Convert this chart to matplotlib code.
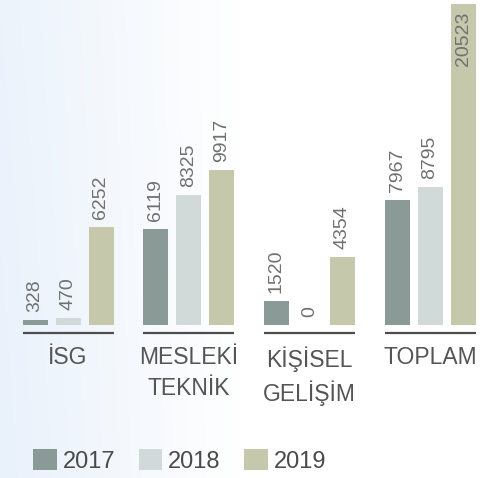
import numpy as np
import matplotlib.pyplot as plt
from matplotlib.patches import Patch

plt.rcParams['font.family'] = ['Liberation Sans', 'DejaVu Sans']

kategoriler = ["İSG", "MESLEKİ\nTEKNİK", "KİŞİSEL\nGELİŞİM", "TOPLAM"]
yillar = ["2017", "2018", "2019"]
deger_2017 = [328, 6119, 1520, 7967]
deger_2018 = [470, 8325, 0, 8795]
deger_2019 = [6252, 9917, 4354, 20523]
renkler = ["#8a9a97", "#d2d9d9", "#c6c8ac"]

seriler = [deger_2017, deger_2018, deger_2019]
ymax = max(max(s) for s in seriler)

W, H = 480, 478
fig = plt.figure(figsize=(W / 100, H / 100), dpi=100)

# tlo: jasnoniebieska poswiata z lewej strony
tlo = fig.add_axes([0, 0, 1, 1], zorder=-10)
xx = np.linspace(0, 1, 200)
yy = np.linspace(0, 1, 200)
X, Y = np.meshgrid(xx, yy)
f = np.clip(1 - X * W / 240, 0, 1) * (0.85 + 0.15 * Y)
poczatek = np.array([233, 241, 251]) / 255
img = 1 - f[..., None] * (1 - poczatek)
tlo.imshow(img, extent=[0, 1, 0, 1], aspect="auto", origin="upper")
tlo.axis("off")

# os z wykresem slupkowym
grupa = 120.7  # px na jedna grupe
ax = fig.add_axes([0, 153 / H, 1, 321 / H])
ax.set_xlim(-68 / grupa, (W - 68) / grupa)
ax.set_ylim(0, ymax)
ax.axis("off")

szer = 25 / grupa
krok = 33 / grupa
px = ymax / 321  # jednostki danych na piksel

for j, (seria, kolor) in enumerate(zip(seriler, renkler)):
    xs = np.arange(len(kategoriler)) + (j - 1) * krok
    ax.bar(xs, seria, width=szer, color=kolor, zorder=2)
    for x, v in zip(xs, seria):
        if v >= ymax:
            ax.text(x, v - 8 * px, str(v), rotation=90, ha="center", va="top",
                    fontsize=14, color="#707070", zorder=3)
        else:
            ax.text(x, v + 8 * px, str(v), rotation=90, ha="center", va="bottom",
                    fontsize=14, color="#707070", zorder=3)

for i, kat in enumerate(kategoriler):
    lewy = i - krok - szer / 2
    prawy = i + krok + szer / 2
    ax.plot([lewy, prawy], [-8 * px, -8 * px], color="#4d4d4d", lw=1.6,
            clip_on=False, solid_capstyle="butt")
    ax.text(i, -21 * px, kat, ha="center", va="top", fontsize=16.5,
            color="#555555", linespacing=1.45, clip_on=False)

uchwyty = [Patch(facecolor=k, edgecolor="none") for k in renkler]
fig.legend(uchwyty, yillar, loc="lower left", bbox_to_anchor=(33 / W, 5 / H),
           ncol=3, frameon=False, fontsize=17, handlelength=1.0, handleheight=1.0,
           handletextpad=0.25, columnspacing=1.0, borderpad=0, borderaxespad=0,
           labelcolor="#4a4a4a")

fig.savefig("out.png", dpi=100)
